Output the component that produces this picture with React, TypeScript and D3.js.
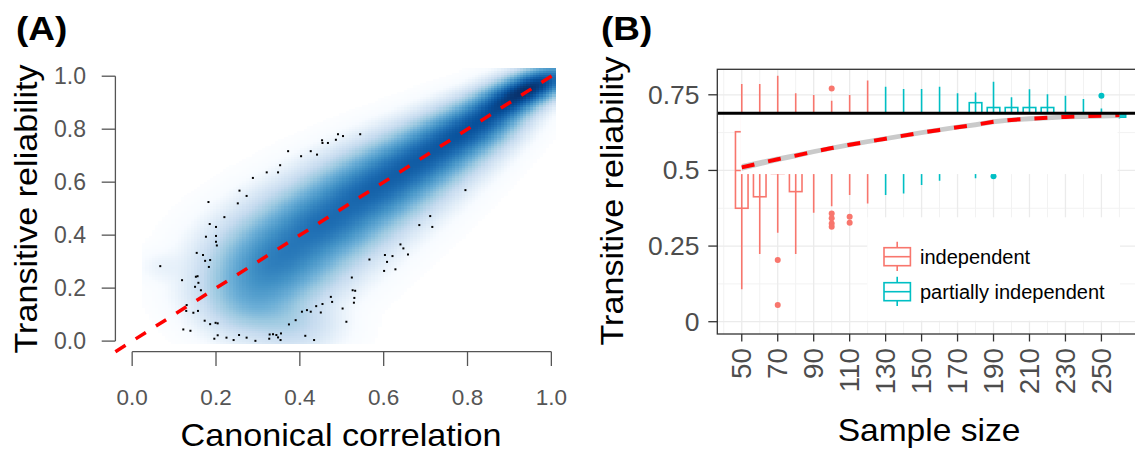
import React, { useMemo } from "react";
import * as d3 from "d3";

// ---------------- panel A: smoothed scatter ----------------
// density ridge: centre, colour level (0 white .. 1 darkest), spread across the ridge
const ridgeX = [0.97, 0.93, 0.88, 0.83, 0.78, 0.73, 0.68, 0.63, 0.58, 0.53, 0.48, 0.43, 0.38, 0.34, 0.31, 0.29, 0.3];
const ridgeY = [0.97, 0.94, 0.89, 0.83, 0.78, 0.73, 0.68, 0.63, 0.58, 0.53, 0.47, 0.42, 0.36, 0.3, 0.24, 0.18, 0.12];
const ridgeLevel = [0.97, 1.0, 0.95, 0.91, 0.89, 0.87, 0.86, 0.85, 0.84, 0.83, 0.82, 0.8, 0.78, 0.75, 0.68, 0.6, 0.52];
const ridgeSpread = [0.024, 0.026, 0.031, 0.037, 0.042, 0.046, 0.05, 0.054, 0.057, 0.06, 0.062, 0.064, 0.066, 0.066, 0.064, 0.06, 0.056];
const blobX = [0.38, 0.08];
const blobY = [0.07, 0.28];
const blobLevel = [0.42, 0.2];
const blobSpread = [0.05, 0.03];

// low density points drawn by smoothScatter
const pointX = [0.067, 0.119, 0.122, 0.139, 0.13, 0.129, 0.146, 0.157, 0.15, 0.152, 0.158, 0.164, 0.156, 0.173, 0.186, 0.199, 0.204, 0.204, 0.196, 0.225, 0.242, 0.255, 0.273, 0.294, 0.328, 0.327, 0.336, 0.344, 0.348, 0.354, 0.355, 0.413, 0.434, 0.374, 0.39, 0.405, 0.417, 0.426, 0.439, 0.45, 0.454, 0.474, 0.477, 0.502, 0.511, 0.529, 0.532, 0.524, 0.566, 0.154, 0.169, 0.174, 0.186, 0.183, 0.176, 0.185, 0.2, 0.2, 0.2, 0.202, 0.22, 0.252, 0.256, 0.273, 0.288, 0.321, 0.348, 0.353, 0.372, 0.403, 0.426, 0.441, 0.453, 0.454, 0.467, 0.486, 0.491, 0.503, 0.544, 0.182, 0.603, 0.608, 0.601, 0.621, 0.628, 0.64, 0.647, 0.658, 0.685, 0.711, 0.716, 0.795, 0.526, 0.53];
const pointY = [0.283, 0.23, 0.044, 0.039, 0.136, 0.114, 0.107, 0.114, 0.205, 0.243, 0.22, 0.192, 0.245, 0.077, 0.064, 0.069, 0.067, 0.022, 0.009, 0.013, 0.004, 0.023, 0.013, 0.001, 0.025, 0.009, 0.026, 0.023, 0.014, 0.004, 0.029, 0.02, 0.004, 0.063, 0.079, 0.111, 0.117, 0.111, 0.132, 0.108, 0.14, 0.167, 0.148, 0.123, 0.073, 0.145, 0.19, 0.24, 0.308, 0.333, 0.325, 0.303, 0.306, 0.28, 0.394, 0.442, 0.431, 0.397, 0.375, 0.361, 0.468, 0.52, 0.568, 0.548, 0.616, 0.637, 0.637, 0.664, 0.717, 0.698, 0.717, 0.704, 0.758, 0.748, 0.748, 0.76, 0.781, 0.774, 0.781, 0.525, 0.325, 0.299, 0.265, 0.321, 0.271, 0.365, 0.35, 0.327, 0.438, 0.472, 0.431, 0.57, 0.192, 0.163];
const ticksA = [0, 0.2, 0.4, 0.6, 0.8, 1.0];

// ---------------- panel B: boxplots ----------------
const sampleSizes = [50, 60, 70, 80, 90, 100, 110, 120, 130, 140, 150, 160, 170, 180, 190, 200, 210, 220, 230, 240, 250, 260];
const groups = ["independent", "independent", "independent", "independent", "independent", "independent", "independent", "independent",
  "partially independent", "partially independent", "partially independent", "partially independent", "partially independent",
  "partially independent", "partially independent", "partially independent", "partially independent", "partially independent",
  "partially independent", "partially independent", "partially independent", "partially independent"];
const lowerWhisker = [0.107, 0.224, 0.294, 0.224, 0.36, 0.382, 0.419, 0.391, 0.419, 0.424, 0.452, 0.466, 0.5, 0.474, 0.52, 0.55, 0.56, 0.58, 0.6, 0.61, 0.62, 0.672];
const lowerQuartile = [0.375, 0.413, 0.49, 0.43, 0.52, 0.54, 0.55, 0.56, 0.57, 0.58, 0.6, 0.61, 0.62, 0.63, 0.64, 0.645, 0.65, 0.655, 0.66, 0.665, 0.668, 0.676];
const medianValue = [0.5, 0.55, 0.57, 0.58, 0.6, 0.61, 0.62, 0.63, 0.64, 0.645, 0.65, 0.655, 0.66, 0.67, 0.675, 0.68, 0.68, 0.683, 0.685, 0.686, 0.687, 0.68];
const upperQuartile = [0.628, 0.65, 0.66, 0.66, 0.67, 0.675, 0.68, 0.685, 0.685, 0.688, 0.688, 0.688, 0.688, 0.724, 0.708, 0.708, 0.708, 0.708, 0.689, 0.689, 0.689, 0.684];
const upperWhisker = [0.786, 0.786, 0.813, 0.755, 0.749, 0.73, 0.749, 0.797, 0.777, 0.769, 0.769, 0.777, 0.755, 0.758, 0.793, 0.742, 0.768, 0.752, 0.747, 0.736, 0.705, 0.688];
const outlierSize = [70, 70, 100, 100, 100, 100, 100, 110, 110, 190, 250];
const outlierGroup = ["independent", "independent", "independent", "independent", "independent", "independent", "independent", "independent", "independent", "partially independent", "partially independent"];
const outlierValue = [0.204, 0.055, 0.771, 0.358, 0.342, 0.325, 0.314, 0.347, 0.327, 0.481, 0.747];
const fitValue = [0.51, 0.524, 0.537, 0.549, 0.562, 0.574, 0.585, 0.595, 0.605, 0.615, 0.625, 0.634, 0.643, 0.651, 0.661, 0.667, 0.671, 0.674, 0.677, 0.679, 0.681, 0.683];
const fitSe = [0.011, 0.01, 0.009, 0.009, 0.008, 0.008, 0.008, 0.008, 0.008, 0.008, 0.008, 0.008, 0.008, 0.008, 0.008, 0.008, 0.008, 0.008, 0.008, 0.009, 0.009, 0.01];
const referenceLine = 0.689;
const xBreaks = [50, 70, 90, 110, 130, 150, 170, 190, 210, 230, 250];
const xMinor = [40, 60, 80, 100, 120, 140, 160, 180, 200, 220, 240, 260];
const yBreaks = [0, 0.25, 0.5, 0.75];
const yMinor = [0.125, 0.375, 0.625];
const legendLabels = ["independent", "partially independent"];

const FONT = "'Liberation Sans', Arial, Helvetica, sans-serif";
const groupColor = d3.scaleOrdinal<string, string>().domain(legendLabels).range(["#F8766D", "#00BFC4"]);

function Txt(props: any) {
  const { x, y, size, k = 1, rot = 0, anchor = "middle", fill = "#000", weight = "normal", dy = 0, children } = props;
  return (
    <text
      transform={`translate(${x},${y}) rotate(${rot}) scale(${k},1)`}
      fontSize={size}
      fontFamily={FONT}
      fontWeight={weight}
      textAnchor={anchor}
      fill={fill}
      dy={dy}
    >
      {children}
    </text>
  );
}

// kernel density made of gaussians laid along the ridge
function density(px: number, py: number) {
  let d = 0;
  const along = 0.05;
  for (let i = 0; i < ridgeX.length; i++) {
    const j0 = Math.max(0, i - 1);
    const j1 = Math.min(ridgeX.length - 1, i + 1);
    const ang = Math.atan2(ridgeY[j0] - ridgeY[j1], ridgeX[j0] - ridgeX[j1]);
    const c = Math.cos(ang), s = Math.sin(ang);
    const ddx = px - ridgeX[i], ddy = py - ridgeY[i];
    const u = ddx * c + ddy * s;
    const v = -ddx * s + ddy * c;
    const sp = ridgeSpread[i];
    d += Math.pow(ridgeLevel[i], 4) * Math.exp(-(u * u) / (2 * along * along) - (v * v) / (2 * sp * sp));
  }
  for (let i = 0; i < blobX.length; i++) {
    const ddx = px - blobX[i], ddy = py - blobY[i];
    const sp = blobSpread[i];
    d += Math.pow(blobLevel[i], 4) * Math.exp(-(ddx * ddx + ddy * ddy) / (2 * sp * sp));
  }
  return d;
}

function PanelA() {
  const xA = d3.scaleLinear().domain([-0.04, 1.013]).range([115.4, 556.8]);
  const yA = d3.scaleLinear().domain([-0.04, 1.017]).range([351.7, 71.7]);

  const cells = useMemo(() => {
    const ramp = d3.piecewise(d3.interpolateRgb, ["#FFFFFF", "#F7FBFF", "#DEEBF7", "#C6DBEF", "#9ECAE1", "#6BAED6", "#4292C6", "#2171B5", "#08519C", "#08306B"]);
    const nb = 128;
    const gx = [0.024, 1.01];
    const gy = [-0.01, 1.03];
    const dx = (gx[1] - gx[0]) / nb;
    const dy = (gy[1] - gy[0]) / nb;
    const vals: number[] = [];
    let max = 0;
    for (let j = 0; j < nb; j++) {
      for (let i = 0; i < nb; i++) {
        const v = density(gx[0] + (i + 0.5) * dx, gy[0] + (j + 0.5) * dy);
        vals.push(v);
        if (v > max) max = v;
      }
    }
    const out: any[] = [];
    const w = xA(gx[0] + dx) - xA(gx[0]);
    const h = yA(gy[0]) - yA(gy[0] + dy);
    for (let j = 0; j < nb; j++) {
      for (let i = 0; i < nb; i++) {
        const t = Math.pow(vals[j * nb + i] / max, 0.25);
        if (t < 0.04) continue;
        out.push({
          x: xA(gx[0] + i * dx),
          y: yA(gy[0] + (j + 1) * dy),
          w: w + 0.4,
          h: h + 0.4,
          fill: ramp(t),
        });
      }
    }
    return out;
  }, []);

  return (
    <g>
      <g shapeRendering="crispEdges">
        {cells.map((c, i) => (
          <rect key={i} x={c.x} y={c.y} width={c.w} height={c.h} fill={c.fill} />
        ))}
      </g>
      {pointX.map((px, i) => (
        <rect key={"p" + i} x={xA(px) - 1} y={yA(pointY[i]) - 1} width={2} height={2} fill="#000" />
      ))}
      <line
        x1={xA(-0.04)} y1={yA(-0.04)} x2={xA(1.013)} y2={yA(1.013)}
        stroke="#FF0000" strokeWidth={3.5} strokeDasharray="12,12"
      />
      {/* y axis */}
      <line x1={115.4} x2={115.4} y1={yA(0)} y2={yA(1)} stroke="#555" strokeWidth={1.3} />
      {ticksA.map((t) => (
        <g key={"y" + t}>
          <line x1={101.7} x2={115.4} y1={yA(t)} y2={yA(t)} stroke="#555" strokeWidth={1.3} />
          <Txt x={86} y={yA(t)} size={23} anchor="end" fill="#555" dy="0.36em">{t.toFixed(1)}</Txt>
        </g>
      ))}
      {/* x axis */}
      <line x1={xA(0)} x2={xA(1)} y1={351.7} y2={351.7} stroke="#555" strokeWidth={1.3} />
      {ticksA.map((t) => (
        <g key={"x" + t}>
          <line x1={xA(t)} x2={xA(t)} y1={351.7} y2={366} stroke="#555" strokeWidth={1.3} />
          <Txt x={xA(t)} y={405} size={22.5} fill="#555">{t.toFixed(1)}</Txt>
        </g>
      ))}
      <Txt x={37} y={209} size={30.5} k={1.12} rot={-90}>Transitive reliability</Txt>
      <Txt x={341} y={445.5} size={30.5} k={1.12}>Canonical correlation</Txt>
      <Txt x={16} y={40} size={33} k={1.12} anchor="start" weight="bold">(A)</Txt>
    </g>
  );
}

function PanelB() {
  const left = 717.3, right = 1145.3, top = 69.3, bottom = 334;
  const x = d3.scaleLinear().domain([36.4, 274.4]).range([left, right]);
  const y = d3.scaleLinear().domain([-0.0406, 0.8343]).range([bottom, top]);
  const half = (x(7) - x(0)) / 2;

  const fitPts = sampleSizes.map((s, i) => [s, fitValue[i], fitSe[i]] as [number, number, number]);
  const line = d3.line<[number, number, number]>().x((d) => x(d[0])).y((d) => y(d[1]));
  const ribbon = d3.area<[number, number, number]>()
    .x((d) => x(d[0]))
    .y0((d) => y(d[1] - d[2]))
    .y1((d) => y(d[1] + d[2]));

  return (
    <g>
      <defs>
        <clipPath id="clipB">
          <rect x={left} y={top} width={right - left} height={bottom - top} />
        </clipPath>
      </defs>
      <g clipPath="url(#clipB)">
        <rect x={left} y={top} width={right - left} height={bottom - top} fill="#fff" />
        {yMinor.map((v) => (
          <line key={"ym" + v} x1={left} x2={right} y1={y(v)} y2={y(v)} stroke="#F2F2F2" strokeWidth={1} />
        ))}
        {xMinor.map((v) => (
          <line key={"xm" + v} x1={x(v)} x2={x(v)} y1={top} y2={bottom} stroke="#F2F2F2" strokeWidth={1} />
        ))}
        {yBreaks.map((v) => (
          <line key={"yg" + v} x1={left} x2={right} y1={y(v)} y2={y(v)} stroke="#EBEBEB" strokeWidth={1.3} />
        ))}
        {xBreaks.map((v) => (
          <line key={"xg" + v} x1={x(v)} x2={x(v)} y1={top} y2={bottom} stroke="#EBEBEB" strokeWidth={1.3} />
        ))}

        {/* boxplots */}
        {sampleSizes.map((s, i) => {
          const col = groupColor(groups[i]);
          const cx = x(s);
          return (
            <g key={"b" + s} stroke={col} strokeWidth={1.6} fill="none">
              <line x1={cx} x2={cx} y1={y(lowerWhisker[i])} y2={y(upperWhisker[i])} />
              <rect x={cx - half} y={y(upperQuartile[i])} width={2 * half} height={y(lowerQuartile[i]) - y(upperQuartile[i])} />
              <line x1={cx - half} x2={cx + half} y1={y(medianValue[i])} y2={y(medianValue[i])} />
            </g>
          );
        })}
        {outlierSize.map((s, i) => (
          <circle key={"o" + i} cx={x(s)} cy={y(outlierValue[i])} r={3} fill={groupColor(outlierGroup[i])} />
        ))}

        {/* white band under the reference line */}
        <rect x={x(49.45)} y={y(referenceLine)} width={x(259) - x(49.45)} height={y(0.488) - y(referenceLine)} fill="#fff" />

        {/* fitted curve */}
        <path d={ribbon(fitPts) || ""} fill="#C4C4C4" opacity={0.9} />
        <path d={line(fitPts) || ""} fill="none" stroke="#FF0000" strokeWidth={4} strokeDasharray="13,14" />
        <line x1={left} x2={right} y1={y(referenceLine)} y2={y(referenceLine)} stroke="#000" strokeWidth={2.8} />

        {/* legend */}
        <rect x={867.3} y={217.3} width={252.7} height={103.4} fill="#fff" />
        {legendLabels.map((lab, i) => {
          const cy = 256.7 + i * 35;
          const col = groupColor(lab);
          return (
            <g key={lab}>
              <g stroke={col} strokeWidth={1.6} fill="none">
                <line x1={897.2} x2={897.2} y1={cy - 15} y2={cy - 9} />
                <line x1={897.2} x2={897.2} y1={cy + 9} y2={cy + 14.3} />
                <rect x={884} y={cy - 9} width={26.4} height={18} fill="#fff" />
                <line x1={884} x2={910.4} y1={cy} y2={cy} />
              </g>
              <Txt x={920} y={cy + 7.3} size={20} anchor="start">{lab}</Txt>
            </g>
          );
        })}
      </g>
      <rect x={left} y={top} width={right - left} height={bottom - top} fill="none" stroke="#333" strokeWidth={1.3} />

      {/* axes */}
      {yBreaks.map((v) => (
        <g key={"yt" + v}>
          <line x1={708.3} x2={left} y1={y(v)} y2={y(v)} stroke="#333" strokeWidth={1.3} />
          <Txt x={699.5} y={y(v)} size={25} k={1.06} anchor="end" fill="#4D4D4D" dy="0.36em">{d3.format("~g")(v)}</Txt>
        </g>
      ))}
      {xBreaks.map((v) => (
        <g key={"xt" + v}>
          <line x1={x(v)} x2={x(v)} y1={bottom} y2={341.5} stroke="#333" strokeWidth={1.3} />
          <Txt x={x(v)} y={348} size={27} k={1.03} rot={-90} anchor="end" fill="#4D4D4D" dy="0.35em">{v}</Txt>
        </g>
      ))}
      <Txt x={623} y={201} size={30.5} k={1.12} rot={-90}>Transitive reliability</Txt>
      <Txt x={929} y={440.7} size={30.5} k={1.1}>Sample size</Txt>
      <Txt x={601} y={40} size={33} k={1.12} anchor="start" weight="bold">(B)</Txt>
    </g>
  );
}

export default function App() {
  return (
    <svg
      width={1135}
      height={453}
      viewBox="0 0 1135 453"
      style={{ position: "absolute", left: 0, top: 0, display: "block", background: "#fff" }}
    >
      <rect width={1135} height={453} fill="#fff" />
      <PanelA />
      <PanelB />
    </svg>
  );
}
